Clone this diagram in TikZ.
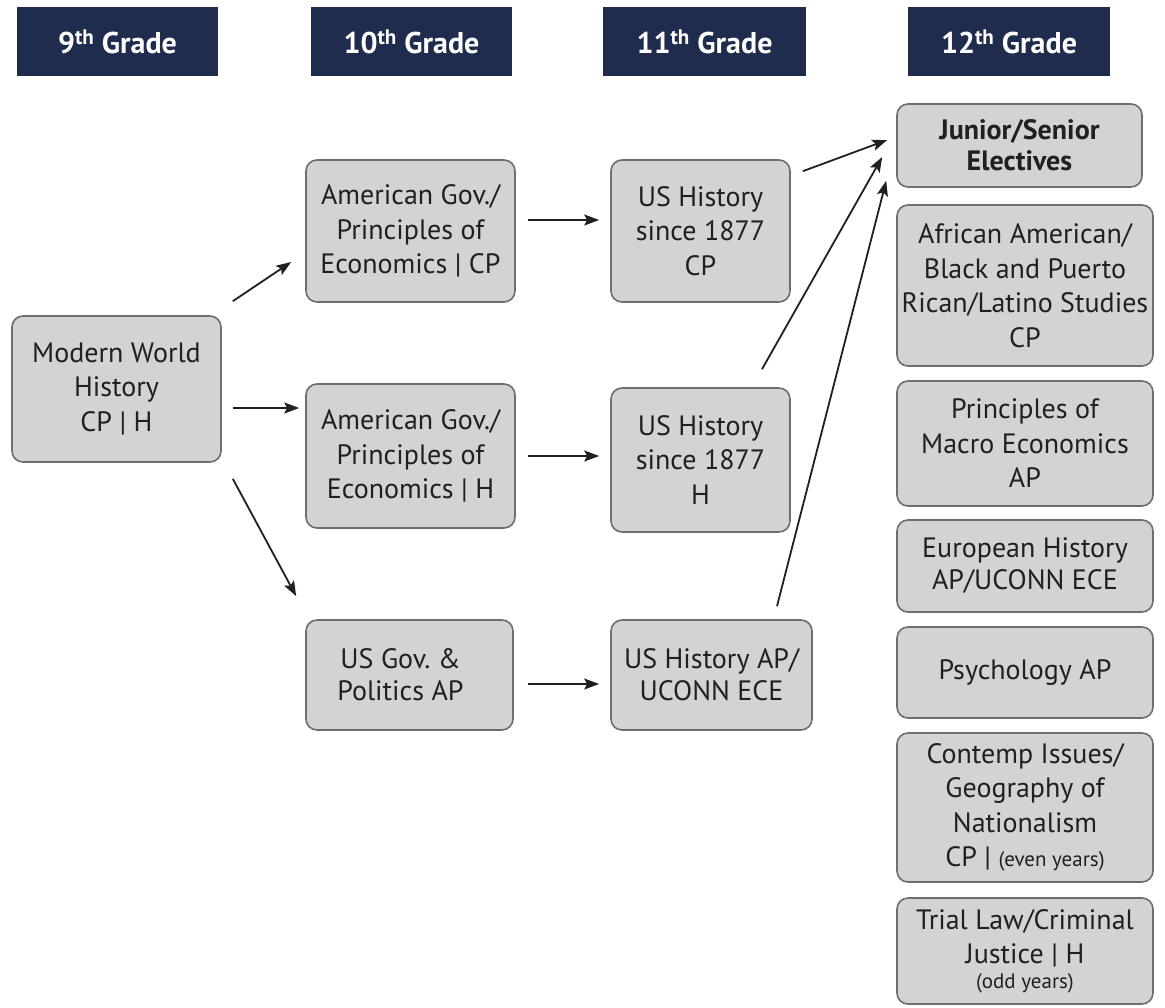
\documentclass[tikz,border=0pt]{standalone}
\usepackage{fontspec}
\setmainfont{PT Sans}
\usetikzlibrary{arrows.meta,calc}
\definecolor{navy}{HTML}{1F2C4D}
\definecolor{boxfill}{HTML}{D3D3D3}
\definecolor{boxline}{HTML}{6E6E6E}
\definecolor{txt}{HTML}{231F20}
\frenchspacing
\tikzset{
  hdr/.style={fill=navy, draw=none, text=white, font=\fontsize{30}{34}\selectfont\bfseries, minimum height=69pt, inner sep=0pt},
  crs/.style={fill=boxfill, draw=boxline, line width=1.6pt, rounded corners=11pt, text=txt, align=center, font=\fontsize{28}{34.5}\selectfont, inner sep=0pt},
  arr/.style={line width=1.8pt, draw=txt, -{Stealth[length=15pt,width=11pt,inset=3pt]}},
}
\newcommand{\smalltxt}[1]{{\fontsize{21}{24}\selectfont #1}}
\begin{document}
\begin{tikzpicture}[x=1pt,y=-1pt]
\useasboundingbox (0,0) rectangle (1165,1007);
% headers
\node[hdr, minimum width=201pt] (h9)  at (117.5,41.5) {9\textsuperscript{th} Grade};
\node[hdr, minimum width=201pt] (h10) at (411.5,41.5) {10\textsuperscript{th} Grade};
\node[hdr, minimum width=203pt] (h11) at (704.5,41.5) {11\textsuperscript{th} Grade};
\node[hdr, minimum width=202pt] (h12) at (1009,41.5) {12\textsuperscript{th} Grade};
% courses
\node[crs, minimum width=209pt, minimum height=146pt] (mwh) at (116.5,389) {Modern World\\History\\CP | H};
\node[crs, minimum width=209pt, minimum height=142pt] (ag1) at (410.5,231) {American Gov./\\Principles of\\Economics | CP};
\node[crs, minimum width=209pt, minimum height=144pt] (ag2) at (410.5,456) {American Gov./\\Principles of\\Economics | H};
\node[crs, minimum width=207pt, minimum height=110pt, font=\fontsize{28}{32}\selectfont] (usg) at (409.5,675) {US Gov. \&\hspace*{18pt}\\Politics AP\hspace*{18pt}};
\node[crs, minimum width=179pt, minimum height=142pt] (us1) at (700.5,231) {US History\\since 1877\\CP};
\node[crs, minimum width=179pt, minimum height=144pt] (us2) at (700.5,460) {US History\\since 1877\\H};
\node[crs, minimum width=201pt, minimum height=110pt, font=\fontsize{28}{32}\selectfont] (us3) at (711.5,675) {US History AP/\\UCONN ECE};
% electives
\node[crs, minimum width=245pt, minimum height=83pt, font=\fontsize{28}{31}\selectfont\bfseries] (js) at (1019.5,145.5) {Junior/Senior\\Electives};
\node[crs, minimum width=256pt, minimum height=161pt] (e1) at (1025,285.5) {African American/\\Black and Puerto\\Rican/Latino Studies\\CP};
\node[crs, minimum width=256pt, minimum height=125pt] (e2) at (1025,443.5) {Principles of\\Macro Economics\\AP};
\node[crs, minimum width=256pt, minimum height=92pt, font=\fontsize{28}{32}\selectfont] (e3) at (1025,566) {European History\\AP/UCONN ECE};
\node[crs, minimum width=256pt, minimum height=91pt] (e4) at (1025,672.5) {Psychology AP};
\node[crs, minimum width=256pt, minimum height=149pt] (e5) at (1025,807.5) {Contemp Issues/\\Geography of\\Nationalism\\CP | \smalltxt{(even years)}};
\node[crs, minimum width=256pt, minimum height=106pt] (e6) at (1025,951) {Trial Law/Criminal\\Justice | H\\[-10pt]\smalltxt{(odd years)}};
% connectors
\draw[arr] ([shift={(11,-14)}]mwh.north east) -- ([shift={(-14,31)}]ag1.west);
\draw[arr] ([shift={(11,19)}]mwh.east) -- ([shift={(-6,-48)}]ag2.west);
\draw[arr] ([shift={(11,16)}]mwh.south east) -- ([shift={(-9,-23)}]usg.north west);
\draw[arr] ([shift={(12,-11)}]ag1.east) -- ([shift={(-11,-11)}]us1.west);
\draw[arr] ([shift={(12,0)}]ag2.east) -- ([shift={(-11,-4)}]us2.west);
\draw[arr] ([shift={(14,9)}]usg.east) -- ([shift={(-11,9)}]us3.west);
\draw[arr] ([shift={(12,12)}]us1.north east) -- ([shift={(-9,-5.5)}]js.west);
\draw[arr] ([shift={(61.5,-18)}]us2.north) -- ([shift={(-14,11.5)}]js.west);
\draw[arr] ([shift={(65.5,-13)}]us3.north) -- ([shift={(-10,-7)}]js.south west);
\end{tikzpicture}
\end{document}
